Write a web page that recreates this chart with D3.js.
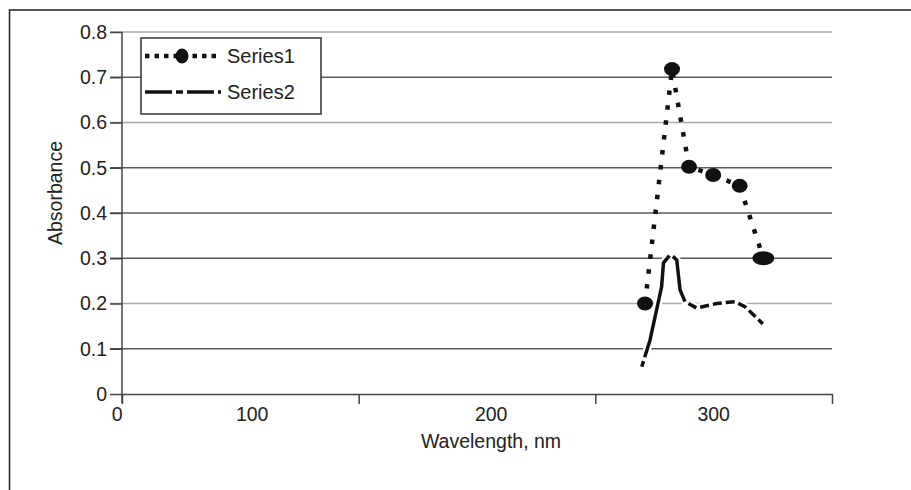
<!DOCTYPE html>
<html>
<head>
<meta charset="utf-8">
<script src="https://cdn.jsdelivr.net/npm/d3@7"></script>
<style>
  body { margin: 0; background: #fff; }
  svg { display: block; font-family: "Liberation Sans", Arial, sans-serif; }
</style>
</head>
<body>
<svg id="chart" width="911" height="490"></svg>
<script>
// values
const wavelength1 = [271, 282.4, 289.6, 299.8, 311, 321];
const absorbance1 = [0.2, 0.718, 0.502, 0.484, 0.46, 0.30];

const wavelength2 = [269.6, 273.1, 278.0, 278.8, 281.8, 284.4, 285.8, 287.9, 292.8, 301.3, 309.0, 313.2, 320.8];
const absorbance2 = [0.06, 0.119, 0.237, 0.29, 0.309, 0.296, 0.23, 0.204, 0.19, 0.2, 0.204, 0.193, 0.155];

const seriesNames = ['Series1', 'Series2'];

const yTicks = [0, 0.1, 0.2, 0.3, 0.4, 0.5, 0.6, 0.7, 0.8];
const xTickMarks = [50, 150, 250, 350];
// printed labels of the x axis and where they sit (in axis units)
const xLabels = ['0', '100', '200', '300'];
const xLabelAt = [48, 105, 206, 300];

const lightGrid = [0.8, 0.6, 0.2];

const svg = d3.select('#chart');

// outer frame (runs off the right and bottom edges)
svg.append('rect')
  .attr('x', 9.5).attr('y', 10)
  .attr('width', 1000).attr('height', 600)
  .attr('fill', 'none').attr('stroke', '#222').attr('stroke-width', 1.5);

const x = d3.scaleLinear().domain([50, 350]).range([122, 832]);
const y = d3.scaleLinear().domain([0, 0.8]).range([394, 32]);

// gridlines incl. the small tick to the left of the axis
svg.append('g').selectAll('line')
  .data(yTicks.filter(d => d > 0))
  .enter().append('line')
  .attr('x1', 110).attr('x2', x(350))
  .attr('y1', d => y(d)).attr('y2', d => y(d))
  .attr('stroke', d => lightGrid.includes(d) ? '#a9a9a9' : '#5a5a5a')
  .attr('stroke-width', 1.5);

// y axis
const yAxis = svg.append('g')
  .attr('transform', `translate(${x(50)},0)`)
  .call(d3.axisLeft(y).tickValues(yTicks).tickSize(12).tickPadding(3)
    .tickFormat(d => d === 0 ? '0' : d.toFixed(1)));
yAxis.select('.domain').remove();
yAxis.selectAll('line').attr('stroke', '#444').attr('stroke-width', 1.5);
yAxis.selectAll('text').attr('font-size', 19.5).attr('fill', '#222').attr('font-family', 'Liberation Sans, Arial, sans-serif');

// x axis
const xAxis = svg.append('g')
  .attr('transform', `translate(0,${y(0)})`)
  .call(d3.axisBottom(x).tickValues(xTickMarks).tickSize(10).tickSizeOuter(0).tickFormat(''));
xAxis.select('.domain').attr('stroke', '#444').attr('stroke-width', 1.5);
xAxis.selectAll('line').attr('stroke', '#444').attr('stroke-width', 1.5);

svg.append('line')
  .attr('x1', x(50)).attr('x2', x(50))
  .attr('y1', y(0.8)).attr('y2', y(0) + 9)
  .attr('stroke', '#444').attr('stroke-width', 1.5);

svg.append('g').selectAll('text')
  .data(xLabels)
  .enter().append('text')
  .attr('x', (d, i) => x(xLabelAt[i]))
  .attr('y', 421)
  .attr('text-anchor', 'middle')
  .attr('font-size', 19.5).attr('fill', '#222')
  .text(d => d);

// axis titles
svg.append('text')
  .attr('x', 491).attr('y', 448)
  .attr('text-anchor', 'middle')
  .attr('font-size', 19.5).attr('fill', '#222')
  .text('Wavelength, nm');

svg.append('text')
  .attr('transform', 'translate(62,193) rotate(-90)')
  .attr('text-anchor', 'middle')
  .attr('font-size', 19.5).attr('fill', '#222')
  .text('Absorbance');

// series
const s1 = wavelength1.map((w, i) => [w, absorbance1[i]]);
const s2 = wavelength2.map((w, i) => [w, absorbance2[i]]);
const line = d3.line().x(d => x(d[0])).y(d => y(d[1]));

const dot1 = '4.5,10.5';
// mostly solid on the rising flank, short dashes on the tail, as in the scan
const dash2 = '6,4,106,5,48,4,9,4,9,4,9,4,9,4,9,4,9,4,9,4,9,4,9,4,9,4,9,4';

svg.append('path').datum(s2)
  .attr('d', line).attr('fill', 'none')
  .attr('stroke', '#fff').attr('stroke-width', 8).attr('stroke-linejoin', 'round');
svg.append('path').datum(s2)
  .attr('d', line).attr('fill', 'none')
  .attr('stroke', '#111').attr('stroke-width', 3.5)
  .attr('stroke-dasharray', dash2);

svg.append('path').datum(s1)
  .attr('d', line).attr('fill', 'none')
  .attr('stroke', '#111').attr('stroke-width', 4.5)
  .attr('stroke-dasharray', dot1);

svg.append('g').selectAll('ellipse')
  .data(s1)
  .enter().append('ellipse')
  .attr('cx', d => x(d[0])).attr('cy', d => y(d[1]))
  .attr('rx', (d, i) => i === s1.length - 1 ? 11 : 8)
  .attr('ry', 7)
  .attr('fill', '#111');

// legend
const legend = svg.append('g').attr('transform', 'translate(141,38)');
legend.append('rect')
  .attr('x', 0).attr('y', 0).attr('width', 180).attr('height', 76)
  .attr('fill', '#fff').attr('stroke', '#333').attr('stroke-width', 1.5);

const rows = legend.selectAll('g.row')
  .data(seriesNames)
  .enter().append('g').attr('class', 'row')
  .attr('transform', (d, i) => `translate(0,${i === 0 ? 18 : 54})`);

rows.append('line')
  .attr('x1', 4).attr('x2', 80).attr('y1', 0).attr('y2', 0)
  .attr('stroke', '#111')
  .attr('stroke-width', (d, i) => i === 0 ? 4.5 : 3.5)
  .attr('stroke-dasharray', (d, i) => i === 0 ? '4.5,5' : '27,4,7,4');

rows.filter((d, i) => i === 0).append('ellipse')
  .attr('cx', 41).attr('cy', 0).attr('rx', 6.5).attr('ry', 7.5).attr('fill', '#111');

rows.append('text')
  .attr('x', 86).attr('y', 7)
  .attr('font-size', 20).attr('fill', '#222')
  .text(d => d);
</script>
</body>
</html>
